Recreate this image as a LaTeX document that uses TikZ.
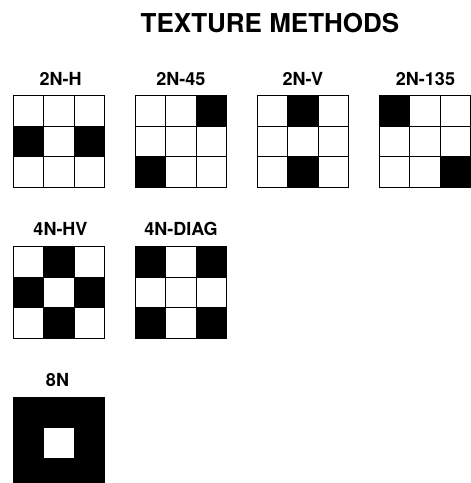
\documentclass[tikz,border=0pt]{standalone}
\usepackage{fontspec}
\setmainfont{TeX Gyre Heros}
\newlength{\du}
\setlength{\du}{1pt}
\tikzset{methodlabel/.style={anchor=base,inner sep=0pt,outer sep=0pt,color=dialinecolor,font=\fontsize{18}{21}\selectfont\bfseries}}
\begin{document}
\begin{tikzpicture}[even odd rule]
\pgftransformxscale{1.000000}
\pgftransformyscale{-1.000000}
\definecolor{dialinecolor}{rgb}{0.000000, 0.000000, 0.000000}
\definecolor{diafillcolor}{rgb}{0.000000, 0.000000, 0.000000}
\useasboundingbox (0\du,0\du) rectangle (471\du,483\du);
\pgfsetlinewidth{1.000000\du}
\pgfsetmiterjoin
\pgfsetbuttcap
% title
\node[anchor=base,inner sep=0pt,outer sep=0pt,color=dialinecolor,font=\fontsize{26}{30}\selectfont\bfseries] (title) at (270\du,32.5\du){TEXTURE METHODS};
% 2N-H
\node[methodlabel] (lbl2nh) at (60.5\du,85\du){2N-H};
\fill[diafillcolor] (13.2\du,126.3\du) rectangle (43.7\du,156.8\du) (74.2\du,126.3\du) rectangle (104.7\du,156.8\du);
\draw[dialinecolor] (13.2\du,95.8\du) rectangle (104.7\du,187.3\du) (43.7\du,95.8\du)--(43.7\du,187.3\du) (74.2\du,95.8\du)--(74.2\du,187.3\du) (13.2\du,126.3\du)--(104.7\du,126.3\du) (13.2\du,156.8\du)--(104.7\du,156.8\du);
% 2N-45
\node[methodlabel] (lbl2n45) at (180.95\du,85\du){2N-45};
\fill[diafillcolor] (196.2\du,95.8\du) rectangle (226.7\du,126.3\du) (135.2\du,156.8\du) rectangle (165.7\du,187.3\du);
\draw[dialinecolor] (135.2\du,95.8\du) rectangle (226.7\du,187.3\du) (165.7\du,95.8\du)--(165.7\du,187.3\du) (196.2\du,95.8\du)--(196.2\du,187.3\du) (135.2\du,126.3\du)--(226.7\du,126.3\du) (135.2\du,156.8\du)--(226.7\du,156.8\du);
% 2N-V
\node[methodlabel] (lbl2nv) at (302.95\du,85\du){2N-V};
\fill[diafillcolor] (287.7\du,95.8\du) rectangle (318.2\du,126.3\du) (287.7\du,156.8\du) rectangle (318.2\du,187.3\du);
\draw[dialinecolor] (257.2\du,95.8\du) rectangle (348.7\du,187.3\du) (287.7\du,95.8\du)--(287.7\du,187.3\du) (318.2\du,95.8\du)--(318.2\du,187.3\du) (257.2\du,126.3\du)--(348.7\du,126.3\du) (257.2\du,156.8\du)--(348.7\du,156.8\du);
% 2N-135
\node[methodlabel] (lbl2n135) at (425.5\du,85\du){2N-135};
\fill[diafillcolor] (379.2\du,95.8\du) rectangle (409.7\du,126.3\du) (440.2\du,156.8\du) rectangle (470.7\du,187.3\du);
\draw[dialinecolor] (379.2\du,95.8\du) rectangle (470.7\du,187.3\du) (409.7\du,95.8\du)--(409.7\du,187.3\du) (440.2\du,95.8\du)--(440.2\du,187.3\du) (379.2\du,126.3\du)--(470.7\du,126.3\du) (379.2\du,156.8\du)--(470.7\du,156.8\du);
% 4N-HV
\node[methodlabel] (lbl4nhv) at (60.5\du,235.5\du){4N-HV};
\fill[diafillcolor] (43.7\du,246.5\du) rectangle (74.2\du,277.0\du) (13.2\du,277.0\du) rectangle (43.7\du,307.5\du) (74.2\du,277.0\du) rectangle (104.7\du,307.5\du) (43.7\du,307.5\du) rectangle (74.2\du,338.0\du);
\draw[dialinecolor] (13.2\du,246.5\du) rectangle (104.7\du,338.0\du) (43.7\du,246.5\du)--(43.7\du,338.0\du) (74.2\du,246.5\du)--(74.2\du,338.0\du) (13.2\du,277.0\du)--(104.7\du,277.0\du) (13.2\du,307.5\du)--(104.7\du,307.5\du);
% 4N-DIAG
\node[methodlabel] (lbl4ndiag) at (180.95\du,235.5\du){4N-DIAG};
\fill[diafillcolor] (135.2\du,246.5\du) rectangle (165.7\du,277.0\du) (196.2\du,246.5\du) rectangle (226.7\du,277.0\du) (135.2\du,307.5\du) rectangle (165.7\du,338.0\du) (196.2\du,307.5\du) rectangle (226.7\du,338.0\du);
\draw[dialinecolor] (135.2\du,246.5\du) rectangle (226.7\du,338.0\du) (165.7\du,246.5\du)--(165.7\du,338.0\du) (196.2\du,246.5\du)--(196.2\du,338.0\du) (135.2\du,277.0\du)--(226.7\du,277.0\du) (135.2\du,307.5\du)--(226.7\du,307.5\du);
% 8N
\node[methodlabel] (lbl8n) at (57.5\du,386\du){8N};
\fill[diafillcolor] (13.2\du,397.2\du) rectangle (104.7\du,488.7\du) (43.7\du,427.7\du) rectangle (74.2\du,458.2\du);
\draw[dialinecolor] (13.2\du,397.2\du) rectangle (104.7\du,488.7\du) (43.7\du,427.7\du) rectangle (74.2\du,458.2\du);
\end{tikzpicture}
\end{document}
